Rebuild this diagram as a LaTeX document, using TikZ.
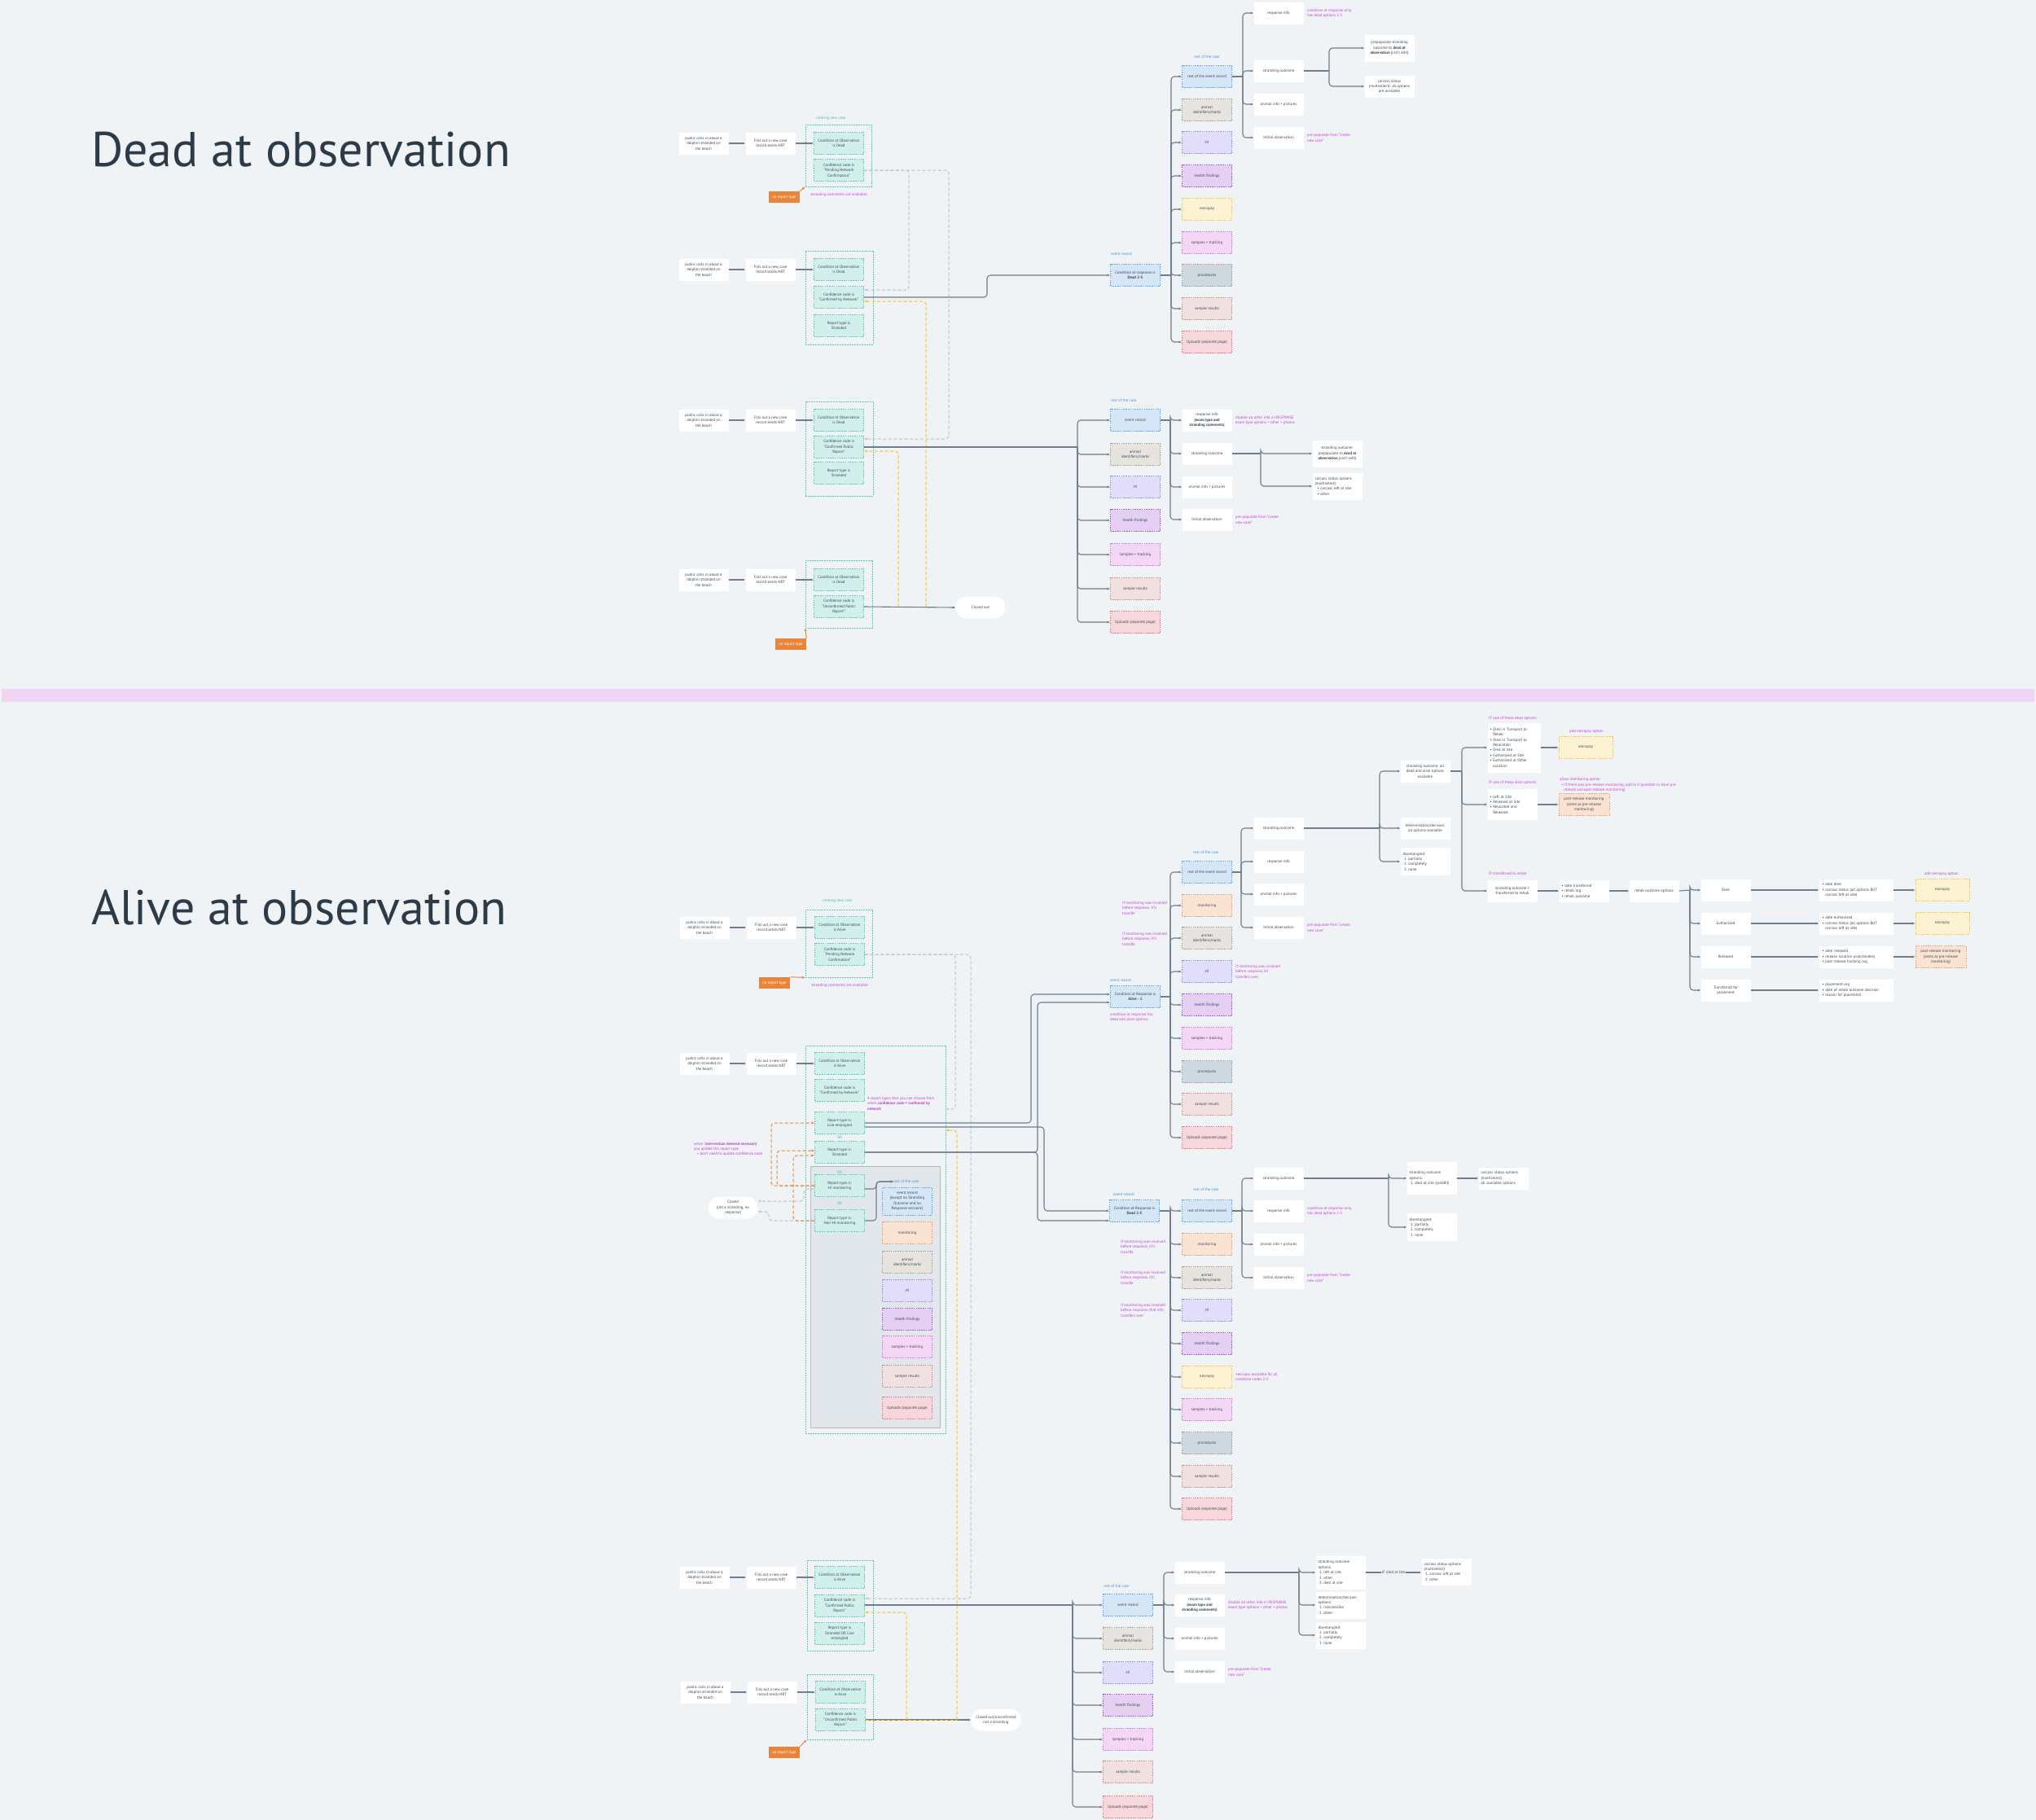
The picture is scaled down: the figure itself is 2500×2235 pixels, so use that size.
\documentclass[tikz,border=0pt]{standalone}
\usepackage{fontspec}
\setmainfont{PT Sans}
\usetikzlibrary{arrows.meta,fit,positioning}

\definecolor{bgC}{HTML}{EFF3F6}
\definecolor{ink}{HTML}{3A4652}
\definecolor{lineC}{HTML}{6E7E8C}
\definecolor{tealF}{HTML}{D2F0EB}
\definecolor{tealD}{HTML}{5ACDB8}
\definecolor{tealT}{HTML}{3DBFA6}
\definecolor{blueF}{HTML}{D5E6F6}
\definecolor{blueD}{HTML}{5EA9EC}
\definecolor{blueT}{HTML}{3F8FE0}
\definecolor{beigeF}{HTML}{E7E3DE}
\definecolor{beigeD}{HTML}{A9A29A}
\definecolor{lavF}{HTML}{E1DDFB}
\definecolor{lavD}{HTML}{9A8CF2}
\definecolor{purF}{HTML}{E5D0F4}
\definecolor{purD}{HTML}{A45BDB}
\definecolor{yelF}{HTML}{FDF3D3}
\definecolor{yelD}{HTML}{F6C944}
\definecolor{pnkF}{HTML}{F4D6F6}
\definecolor{pnkD}{HTML}{D77BE2}
\definecolor{slaF}{HTML}{CED8DF}
\definecolor{slaD}{HTML}{97A3AD}
\definecolor{rosF}{HTML}{F0E0E0}
\definecolor{rosD}{HTML}{D09090}
\definecolor{redF}{HTML}{F8D7DC}
\definecolor{redD}{HTML}{E67A8B}
\definecolor{pchF}{HTML}{FBE3D4}
\definecolor{pchD}{HTML}{F0A06E}
\definecolor{orgF}{HTML}{E9853A}
\definecolor{magT}{HTML}{C63AD8}
\definecolor{greyD}{HTML}{B9C3CC}
\definecolor{yelL}{HTML}{F5C51A}
\definecolor{sepC}{HTML}{EFD5F4}
\definecolor{gboxF}{HTML}{E2E7EB}
\definecolor{gboxD}{HTML}{B3BBC2}
\definecolor{titleC}{HTML}{2D3A48}

\newcommand{\fs}{\fontsize{4.8}{6.4}\selectfont}

\tikzset{
  base/.style={font=\fs, text=ink, inner sep=1pt, align=center},
  wbox/.style={base, fill=white, minimum width=61pt, minimum height=27pt},
  lbox/.style={wbox, text width=55pt, align=left},
  pill/.style={wbox, rounded corners=13pt},
  cbox/.style 2 args={base, draw=#1, fill=#2, line width=0.8pt, dash pattern=on 1.6pt off 1.2pt, minimum width=61pt, minimum height=27pt},
  tbox/.style={cbox={tealD}{tealF}},
  bbox/.style={cbox={blueD}{blueF}},
  ebox/.style={cbox={beigeD}{beigeF}},
  hbox/.style={cbox={lavD}{lavF}},
  fbox/.style={cbox={purD}{purF}},
  nbox/.style={cbox={yelD}{yelF}},
  sbox/.style={cbox={pnkD}{pnkF}},
  pbox/.style={cbox={slaD}{slaF}},
  rbox/.style={cbox={rosD}{rosF}},
  ubox/.style={cbox={redD}{redF}},
  mbox/.style={cbox={pchD}{pchF}},
  grp/.style={draw=tealD, line width=0.8pt, dash pattern=on 1.6pt off 1.4pt, inner sep=0pt},
  rtag/.style={base, fill=orgF, text=white, minimum width=38pt, minimum height=14pt},
  note/.style={base, text=magT, align=left, anchor=west, inner sep=0pt},
  lblB/.style={base, text=blueT, inner sep=0pt},
  lblT/.style={base, text=tealT, inner sep=0pt},
  ttl/.style={font=\fontsize{60}{60}\selectfont, text=titleC, anchor=base west, inner sep=0pt},
  ln/.style={draw=lineC, line width=1.1pt, rounded corners=4pt},
  arr/.style={ln, -{Latex[length=3.5pt,width=3.2pt]}},
  gdash/.style={draw=greyD, line width=1pt, dash pattern=on 4pt off 2.5pt, rounded corners=4pt, -{Latex[length=3.5pt,width=3.2pt]}},
  ydash/.style={gdash, draw=yelL},
  odash/.style={gdash, draw=orgF},
  oarr/.style={draw=orgF, line width=1pt, -{Latex[length=3.5pt,width=3.2pt]}},
}

\begin{document}
\begin{tikzpicture}[x=1pt,y=-1pt]
	\fill[bgC] (0,0) rectangle (2500,2235);
	\useasboundingbox (0,0) rectangle (2500,2235);
	\fill[sepC] (2,846) rectangle (2498,862);

	\node[ttl] (tDead) at (112,204) {Dead at observation};
	\node[ttl] (tAlive) at (112,1135) {Alive at observation};

	% dead: new case rows
	\node[wbox] (d1p) at (864,176) {public calls in about a\\dolphin stranded on\\the beach};
	\node[wbox] (d1f) at (946,176) {Fills out a new case\\record sends NRT};
	\node[tbox] (d1c) at (1030,176) {Condition at Observation\\is Dead};
	\node[tbox] (d1k) at (1030,209) {Confidence code is\\“Pending Network\\Confirmation”};
	\node[grp, fit={(989,153) (1070,229)}] (d1g) {};
	\node[lblT] (d1l) at (1020,145) {creating new case};
	\node[rtag] (d1n) at (963,242) {no report type};
	\node[base, text=magT, inner sep=0pt] (d1s) at (1030,239) {stranding comments are available};

	\node[wbox] (d2p) at (864,331) {public calls in about a\\dolphin stranded on\\the beach};
	\node[wbox] (d2f) at (946,331) {Fills out a new case\\record sends NRT};
	\node[tbox] (d2c) at (1030,331) {Condition at Observation\\is Dead};
	\node[tbox] (d2k) at (1030,365) {Confidence code is\\“Confirmed by Network”};
	\node[tbox] (d2r) at (1030,400) {Report type is\\Stranded};
	\node[grp, fit={(989,308) (1072,423)}] (d2g) {};

	\node[wbox] (d3p) at (864,516) {public calls in about a\\dolphin stranded on\\the beach};
	\node[wbox] (d3f) at (946,516) {Fills out a new case\\record sends NRT};
	\node[tbox] (d3c) at (1030,516) {Condition at Observation\\is Dead};
	\node[tbox] (d3k) at (1030,549) {Confidence code is\\“Confirmed Public\\Report”};
	\node[tbox] (d3r) at (1030,581) {Report type is\\Stranded};
	\node[grp, fit={(989,493) (1072,609)}] (d3g) {};

	\node[wbox] (d4p) at (864,712) {public calls in about a\\dolphin stranded on\\the beach};
	\node[wbox] (d4f) at (946,712) {Fills out a new case\\record sends NRT};
	\node[tbox] (d4c) at (1030,712) {Condition at Observation\\is Dead};
	\node[tbox] (d4k) at (1030,745) {Confidence code is\\“Unconfirmed Public\\Report”};
	\node[grp, fit={(989,688) (1071,771)}] (d4g) {};
	\node[rtag] (d4n) at (971,791) {no report type};
	\node[pill] (d4x) at (1204,746) {Closed out};

	\foreach \r in {1,...,4} {
		\draw[arr] (d\r p) -- (d\r f);
		\draw[arr] (d\r f) -- (d\r c);
	}
	\draw[oarr] (d1n.north east) -- (d1g.south west);
	\draw[oarr] (d4n.north east) -- (d4g.south west);
	\draw[arr] (d4k.east) -- (d4x.west);

	\coordinate (g1) at (1116,356);
	\coordinate (g2) at (1165,539);
	\draw[gdash] (d1k.east) -| (g1) -- (d2k.east |- g1);
	\draw[gdash] (d1k.east) -| (g2) -- (d3k.east |- g2);
	\coordinate (y1) at (1137,370);
	\coordinate (y2) at (1103,554);
	\draw[ydash] (d4k.east -| y1) -- (y1) -- (d2k.east |- y1);
	\draw[ydash] (d4k.east -| y2) -- (y2) -- (d3k.east |- y2);

	% dead: event record tree A
	\node[bbox] (eA) at (1394,338) {Condition at response is\\\textbf{Dead 2-5}};
	\node[lblB] (eAl) at (1377,312) {event record};
	\coordinate (jA) at (1212,338);
	\draw[arr] (d2k.east) -| (jA) -- (eA.west);
	\node[bbox] (aA1) at (1482,94) {rest of the event record};
	\node[ebox] (aA2) at (1482,135) {animal\\identifiers/marks};
	\node[hbox] (aA3) at (1482,175) {HI};
	\node[fbox] (aA4) at (1482,216) {health findings};
	\node[nbox] (aA5) at (1482,257) {necropsy};
	\node[sbox] (aA6) at (1482,298) {samples + tracking};
	\node[pbox] (aA7) at (1482,338) {procedures};
	\node[rbox] (aA8) at (1482,379) {sample results};
	\node[ubox] (aA9) at (1482,420) {Uploads (separate page)};
	\node[lblB] (aAl) at (1482,70) {rest of the case};
	\coordinate (bA) at (1438,338);
	\draw[ln] (eA.east) -- (bA);
	\foreach \i in {1,...,9} \draw[arr] (bA) |- (aA\i.west);

	\node[wbox] (rA1) at (1570,16) {response info};
	\node[wbox] (rA2) at (1570,87) {stranding outcome};
	\node[wbox] (rA3) at (1570,128) {animal info + pictures};
	\node[wbox] (rA4) at (1570,169) {Initial observation};
	\node[note] (rAn1) at (1605,16) {condition at response only\\has dead options 2-5};
	\node[note] (rAn4) at (1605,169) {pre-populate from “create\\new case”};
	\coordinate (bA2) at (1526,94);
	\draw[ln] (aA1.east) -- (bA2);
	\foreach \i in {1,...,4} \draw[arr] (bA2) |- (rA\i.west);

	\node[wbox, minimum height=33pt] (sA1) at (1706,59) {prepopulate stranding\\outcome to \textbf{dead at}\\\textbf{observation} (can't edit)};
	\node[wbox] (sA2) at (1706,106) {carcass status\\(multiselect): all options\\are available};
	\coordinate (bA3) at (1632,87);
	\draw[ln] (rA2.east) -- (bA3);
	\foreach \i in {1,2} \draw[arr] (bA3) |- (sA\i.west);

	% dead: event record tree B
	\node[bbox] (aB1) at (1394,516) {event record};
	\node[ebox] (aB2) at (1394,558) {animal\\identifiers/marks};
	\node[hbox] (aB3) at (1394,598) {HI};
	\node[fbox] (aB4) at (1394,639) {health findings};
	\node[sbox] (aB5) at (1394,681) {samples + tracking};
	\node[rbox] (aB6) at (1394,723) {sample results};
	\node[ubox] (aB7) at (1394,764) {Uploads (separate page)};
	\node[lblB] (aBl) at (1380,492) {rest of the case};
	\coordinate (bB) at (1323,549);
	\draw[ln] (d3k.east) -- (bB);
	\foreach \i in {1,...,7} \draw[arr] (bB) |- (aB\i.west);

	\node[wbox] (rB1) at (1482,516) {response info\\\textbf{(exam type and}\\\textbf{stranding comments)}};
	\node[wbox] (rB2) at (1482,557) {stranding outcome};
	\node[wbox] (rB3) at (1482,598) {animal info + pictures};
	\node[wbox] (rB4) at (1482,638) {Initial observation};
	\node[note] (rBn1) at (1517,516) {disable all other info in RESPONSE\\exam type options = other + photos};
	\node[note] (rBn4) at (1517,638) {pre-populate from “create\\new case”};
	\coordinate (bB2) at (1437,516);
	\draw[ln] (aB1.east) -- (bB2);
	\foreach \i in {1,...,4} \draw[arr] (bB2) |- (rB\i.west);

	\node[wbox, minimum height=33pt] (sB1) at (1642,557) {stranding outcome:\\prepopulate to \textbf{dead at}\\\textbf{observation} (can't edit)};
	\node[lbox, minimum height=33pt] (sB2) at (1642,597) {carcass status options\\(multiselect):\\\ \ • carcass left at site\\\ \ • other};
	\coordinate (bB3) at (1548,557);
	\draw[ln] (rB2.east) -- (bB3);
	\foreach \i in {1,2} \draw[arr] (bB3) |- (sB\i.west);

	% alive: new case rows
	\node[wbox] (a1p) at (865,1139) {public calls in about a\\dolphin stranded on\\the beach};
	\node[wbox] (a1f) at (947,1139) {Fills out a new case\\record sends NRT};
	\node[tbox] (a1c) at (1031,1139) {Condition at Observation\\is Alive};
	\node[tbox] (a1k) at (1031,1172) {Confidence code is\\“Pending Network\\Confirmation”};
	\node[grp, fit={(989,1117) (1071,1200)}] (a1g) {};
	\node[lblT] (a1l) at (1028,1106) {creating new case};
	\node[rtag] (a1n) at (951,1207) {no report type};
	\node[base, text=magT, inner sep=0pt] (a1s) at (1031,1210) {stranding comments are available};

	\node[grp, fit={(989,1284) (1161,1760)}] (a2g) {};
	\node[draw=gboxD, fill=gboxF, line width=0.8pt, fit={(995,1432) (1154,1753)}, inner sep=0pt] (a2x) {};
	\node[wbox] (a2p) at (865,1306) {public calls in about a\\dolphin stranded on\\the beach};
	\node[wbox] (a2f) at (947,1306) {Fills out a new case\\record sends NRT};
	\node[tbox] (a2c) at (1031,1306) {Condition at Observation\\is Alive};
	\node[tbox] (a2k) at (1031,1339) {Confidence code is\\“Confirmed by Network”};
	\node[note] (a2kn) at (1065,1355) {4 report types that you can choose from\\when \textbf{confidence code = confirmed by}\\\textbf{network}};
	\node[tbox] (a2le) at (1031,1379) {Report type is:\\Live entangled};
	\node[lblT] (or1) at (1031,1397) {OR};
	\node[tbox] (a2st) at (1031,1415) {Report type is:\\Stranded};
	\node[lblT] (or2) at (1031,1440) {OR};
	\node[tbox] (a2hi) at (1031,1456) {Report type is:\\HI monitoring};
	\node[lblT] (or3) at (1031,1478) {OR};
	\node[tbox] (a2nh) at (1031,1499) {Report type is:\\Non-HI monitoring};
	\node[lblB] (lRc) at (1113,1451) {rest of the case};
	\node[bbox, minimum height=34pt] (gx1) at (1114,1475) {event record\\(except no Stranding\\Outcome and no\\Response sections)};
	\node[mbox] (gx2) at (1114,1514) {monitoring};
	\node[ebox] (gx3) at (1114,1550) {animal\\identifiers/marks};
	\node[hbox] (gx4) at (1114,1585) {HI};
	\node[fbox] (gx5) at (1114,1620) {health findings};
	\node[sbox] (gx6) at (1114,1654) {samples + tracking};
	\node[rbox] (gx7) at (1114,1690) {sample results};
	\node[ubox] (gx8) at (1114,1729) {Uploads (separate page)};
	\node[pill] (ac) at (900,1483) {Closed\\(not a stranding, no\\response)};
	\node[note] (acn) at (852,1411) {when ‘\textbf{intervention deemed necessary}’\\you update the report type\\\ \ \ • don't need to update confidence code};

	\node[wbox] (a4p) at (865,1937) {public calls in about a\\dolphin stranded on\\the beach};
	\node[wbox] (a4f) at (947,1937) {Fills out a new case\\record sends NRT};
	\node[tbox] (a4c) at (1031,1937) {Condition at Observation\\is Alive};
	\node[tbox] (a4k) at (1031,1972) {Confidence code is\\“Confirmed Public\\Report”};
	\node[tbox] (a4r) at (1031,2006) {Report type is\\Stranded OR Live\\entangled};
	\node[grp, fit={(991,1916) (1072,2027)}] (a4g) {};

	\node[wbox] (a5p) at (866,2078) {public calls in about a\\dolphin stranded on\\the beach};
	\node[wbox] (a5f) at (948,2078) {Fills out a new case\\record sends NRT};
	\node[tbox] (a5c) at (1032,2078) {Condition at Observation\\is Alive};
	\node[tbox] (a5k) at (1032,2112) {Confidence code is\\“Unconfirmed Public\\Report”};
	\node[grp, fit={(991,2056) (1072,2136)}] (a5g) {};
	\node[rtag] (a5n) at (963,2152) {no report type};
	\node[pill] (a5x) at (1223,2112) {Closed out/unconfirmed\\not a stranding};

	\foreach \r in {1,2,4,5} {
		\draw[arr] (a\r p) -- (a\r f);
		\draw[arr] (a\r f) -- (a\r c);
	}
	\draw[oarr] (a1n.north east) -- (a1g.south west);
	\draw[oarr] (a5n.north east) -- (a5g.south west);

	% alive: monitoring / closed loops
	\coordinate (jR) at (1076,1451);
	\draw[arr] ([yshift=-4pt]a2hi.east) -| (jR) -- (lRc.west);
	\draw[arr] (a2nh.east) -| (jR) -- (lRc.west);
	\coordinate (c1) at (987,1475);
	\coordinate (c2) at (944,1488);
	\draw[gdash] ([yshift=-4pt]a2hi.west) -| (c1) -- (ac.east |- c1);
	\draw[gdash] (a2nh.west) -| (c2) -- (ac.east |- c2);
	\coordinate (o1) at (947,1456);
	\coordinate (o2) at (954,1456);
	\coordinate (o3) at (974,1499);
	\draw[odash] (a2hi.west) -- (o1) |- (a2le.west);
	\draw[odash] (a2hi.west) -- (o2) |- ([yshift=2pt]a2st.west);
	\draw[odash] (a2nh.west) -- (o3) |- ([yshift=-4pt]a2st.west);

	\coordinate (h1) at (1173,1362);
	\coordinate (h2) at (1192,1963);
	\draw[gdash] (a1k.east) -| (h1) -- (a2g.east |- h1);
	\draw[gdash] (a1k.east) -| (h2) -- (a4k.east |- h2);
	\draw[arr] (a5k.east) -- (a5x.west);
	\coordinate (h3) at (1175,1388);
	\coordinate (h4) at (1113,1980);
	\draw[ydash, -] (a5k.east) -- (a5k.east -| h3);
	\draw[ydash] (a5k.east -| h3) -- (h3) -- (a2g.east |- h3);
	\draw[ydash] (a5k.east -| h4) -- (h4) -- (a4k.east |- h4);

	% alive: event record Alive - 1
	\node[bbox] (eB) at (1394,1224) {Condition at Response is\\\textbf{Alive - 1}};
	\node[lblB] (eBl) at (1376,1204) {event record};
	\node[note] (eBn) at (1363,1249) {condition at response has\\dead and alive options};
	\node[bbox] (eC) at (1393,1487) {Condition at Response is\\\textbf{Dead 2-5}};
	\node[lblB] (eCl) at (1380,1467) {event record};

	\coordinate (v1) at (1266,1221);
	\coordinate (v2) at (1282,1487);
	\coordinate (v3) at (1274,1231);
	\coordinate (v4) at (1274,1499);
	\draw[arr] (a2le.east) -| (v1) -- (eB.west |- v1);
	\draw[arr] ([yshift=-5pt]a2le.east) -| (v2) -- (eC.west);
	\draw[arr] (a2st.east) -| (v3) -- (eB.west |- v3);
	\draw[arr] (a2st.east) -| (v4) -- (eC.west |- v4);

	\node[bbox] (cB1) at (1482,1071) {rest of the event record};
	\node[mbox] (cB2) at (1482,1112) {monitoring};
	\node[ebox] (cB3) at (1482,1152) {animal\\identifiers/marks};
	\node[hbox] (cB4) at (1482,1193) {HI};
	\node[fbox] (cB5) at (1482,1234) {health findings};
	\node[sbox] (cB6) at (1482,1275) {samples + tracking};
	\node[pbox] (cB7) at (1482,1316) {procedures};
	\node[rbox] (cB8) at (1482,1356) {sample results};
	\node[ubox] (cB9) at (1482,1397) {Uploads (separate page)};
	\node[lblB] (cBl) at (1481,1047) {rest of the case};
	\node[note] (cBn1) at (1378,1115) {if monitoring was involved\\before response, it'll\\transfer};
	\node[note] (cBn2) at (1378,1153) {if monitoring was involved\\before response, it'll\\transfer};
	\node[note] (cBn4) at (1517,1193) {if monitoring was involved\\before response, HI\\transfers over};
	\coordinate (bC) at (1437,1224);
	\draw[ln] (eB.east) -- (bC);
	\foreach \i in {1,...,9} \draw[arr] (bC) |- (cB\i.west);

	\node[wbox] (rC1) at (1570,1017) {stranding outcome};
	\node[wbox] (rC2) at (1570,1058) {response info};
	\node[wbox] (rC3) at (1570,1098) {animal info + pictures};
	\node[wbox] (rC4) at (1570,1139) {Initial observation};
	\node[note] (rCn4) at (1605,1139) {pre-populate from “create\\new case”};
	\coordinate (bC2) at (1524,1071);
	\draw[ln] (cB1.east) -- (bC2);
	\foreach \i in {1,...,4} \draw[arr] (bC2) |- (rC\i.west);

	\node[wbox] (sC1) at (1750,947) {stranding outcome: all\\dead and alive options\\available};
	\node[wbox] (sC2) at (1750,1017) {determination/decision:\\all options available};
	\node[lbox, minimum height=34pt] (sC3) at (1750,1058) {disentangled:\\\ 1.\ partially\\\ 2.\ completely\\\ 3.\ none};
	\coordinate (bC3) at (1694,1017);
	\draw[ln] (rC1.east) -- (bC3);
	\foreach \i in {1,...,3} \draw[arr] (bC3) |- (sC\i.west);

	\node[lbox, minimum width=65pt, text width=59pt, minimum height=61pt] (dC1) at (1859,918) {• Died in Transport to\\\phantom{• }Rehab\\• Died in Transport to\\\phantom{• }Relocation\\• Died at site\\• Euthanized at Site\\• Euthanized at Other\\\phantom{• }Location};
	\node[note] (dCl1) at (1828,882) {IF one of these dead options};
	\node[lbox, minimum height=38pt] (dC2) at (1857,988) {• Left at Site\\• Released at Site\\• Relocated and\\\phantom{• }Released};
	\node[note] (dCl2) at (1828,961) {IF one of these alive options};
	\node[wbox] (dC3) at (1857,1094) {stranding outcome +\\transferred to rehab};
	\node[note] (dCl3) at (1828,1073) {IF transferred to rehab};
	\coordinate (bC4) at (1795,947);
	\draw[ln] (sC1.east) -- (bC4);
	\foreach \i in {1,...,3} \draw[arr] (bC4) |- (dC\i.west);

	\node[nbox, minimum width=66pt] (nC1) at (1947,918) {necropsy};
	\node[base, text=magT, inner sep=0pt] (nCl1) at (1948,898) {add necropsy option};
	\node[mbox, minimum width=62pt] (nC2) at (1945,988) {post-release monitoring\\(same as pre-release\\monitoring)};
	\node[note, anchor=north west] (nCl2) at (1915,955) {allow monitoring option\\\ \ • If there was pre-release monitoring, add to it (possible to have pre-\\\ \ \ \ release and post-release monitoring)};
	\node[lbox] (nC3) at (1945,1094) {• date transferred\\• rehab org\\• rehab outcome};
	\node[wbox] (ro) at (2031,1094) {rehab outcome options};
	\draw[arr] (dC1) -- (nC1);
	\draw[arr] (dC2) -- (nC2);
	\draw[arr] (dC3) -- (nC3);
	\draw[arr] (nC3) -- (ro);

	\node[wbox] (oD1) at (2119,1093) {Died};
	\node[wbox] (oD2) at (2119,1134) {Euthanized};
	\node[wbox] (oD3) at (2119,1175) {Released};
	\node[wbox] (oD4) at (2119,1216) {Transferred for\\placement};
	\coordinate (bO) at (2075,1093);
	\draw[ln] (ro.east) -- (bO);
	\foreach \i in {1,...,4} \draw[arr] (bO) |- (oD\i.west);

	\node[lbox, minimum width=91pt, text width=83pt] (pD1) at (2279,1093) {• date died\\• carcass status (all options BUT\\\phantom{• }carcass left at site)};
	\node[lbox, minimum width=91pt, text width=83pt] (pD2) at (2279,1134) {• date euthanized\\• carcass status (all options BUT\\\phantom{• }carcass left at site)};
	\node[lbox, minimum width=91pt, text width=83pt] (pD3) at (2279,1175) {• date released\\• release location (coordinates)\\• post release tracking org};
	\node[lbox, minimum width=91pt, text width=83pt] (pD4) at (2279,1216) {• placement org\\• date of rehab outcome decision\\• reason for placement};
	\foreach \i in {1,...,4} \draw[arr] (oD\i) -- (pD\i);

	\node[nbox, minimum width=66pt] (qD1) at (2385,1093) {necropsy};
	\node[nbox, minimum width=66pt] (qD2) at (2385,1134) {necropsy};
	\node[mbox, minimum width=62pt] (qD3) at (2383,1175) {post-release monitoring\\(same as pre-release\\monitoring)};
	\node[base, text=magT, inner sep=0pt] (qDl) at (2384,1073) {add necropsy option};
	\foreach \i in {1,...,3} \draw[arr] (pD\i) -- (qD\i);

	% alive: event record Dead 2-5
	\node[bbox] (cC1) at (1482,1487) {rest of the event record};
	\node[mbox] (cC2) at (1482,1528) {monitoring};
	\node[ebox] (cC3) at (1482,1569) {animal\\identifiers/marks};
	\node[hbox] (cC4) at (1482,1609) {HI};
	\node[fbox] (cC5) at (1482,1650) {health findings};
	\node[nbox] (cC6) at (1482,1691) {necropsy};
	\node[sbox] (cC7) at (1482,1731) {samples + tracking};
	\node[pbox] (cC8) at (1482,1772) {procedures};
	\node[rbox] (cC9) at (1482,1813) {sample results};
	\node[ubox] (cC10) at (1482,1853) {Uploads (separate page)};
	\node[lblB] (cCl) at (1481,1461) {rest of the case};
	\node[note] (cCn1) at (1376,1531) {if monitoring was involved\\before response, it'll\\transfer};
	\node[note] (cCn2) at (1376,1569) {if monitoring was involved\\before response, it'll\\transfer};
	\node[note] (cCn3) at (1376,1609) {if monitoring was involved\\before response, that info\\transfers over};
	\node[note] (cCn6) at (1517,1691) {necropsy available for all\\condition codes 2-5};
	\coordinate (bD) at (1437,1487);
	\draw[ln] (eC.east) -- (bD);
	\foreach \i in {1,...,10} \draw[arr] (bD) |- (cC\i.west);

	\node[wbox] (rD1) at (1570,1447) {stranding outcome};
	\node[wbox] (rD2) at (1570,1487) {response info};
	\node[wbox] (rD3) at (1570,1528) {animal info + pictures};
	\node[wbox] (rD4) at (1570,1569) {Initial observation};
	\node[note] (rDn2) at (1605,1487) {condition at response only\\has dead options 2-5};
	\node[note] (rDn4) at (1605,1569) {pre-populate from “create\\new case”};
	\coordinate (bD2) at (1525,1487);
	\draw[ln] (cC1.east) -- (bD2);
	\foreach \i in {1,...,4} \draw[arr] (bD2) |- (rD\i.west);

	\node[lbox, minimum height=40pt] (sD1) at (1758,1447) {stranding outcome\\options:\\\ 1.\ died at site (autofill)};
	\node[lbox, minimum height=34pt] (sD2) at (1758,1507) {disentangled:\\\ 1.\ partially\\\ 2.\ completely\\\ 3.\ none};
	\coordinate (bD3) at (1705,1447);
	\draw[ln] (rD1.east) -- (bD3);
	\foreach \i in {1,2} \draw[arr] (bD3) |- (sD\i.west);
	\node[lbox] (tD) at (1846,1447) {carcass status options\\(multiselect):\\all available options};
	\draw[arr] (sD1) -- (tD);

	% alive: confirmed public report tree
	\node[bbox] (eE1) at (1385,1971) {event record};
	\node[ebox] (eE2) at (1385,2012) {animal\\identifiers/marks};
	\node[hbox] (eE3) at (1385,2054) {HI};
	\node[fbox] (eE4) at (1385,2094) {health findings};
	\node[sbox] (eE5) at (1385,2136) {samples + tracking};
	\node[rbox] (eE6) at (1385,2176) {sample results};
	\node[ubox] (eE7) at (1385,2219) {Uploads (separate page)};
	\node[lblB] (eEl) at (1371,1948) {rest of the case};
	\coordinate (bE) at (1317,1971);
	\draw[ln] (a4k.east |- bE) -- (bE);
	\foreach \i in {1,...,7} \draw[arr] (bE) |- (eE\i.west);

	\node[wbox] (rE1) at (1473,1931) {stranding outcome};
	\node[wbox] (rE2) at (1473,1971) {response info\\\textbf{(exam type and}\\\textbf{stranding comments)}};
	\node[wbox] (rE3) at (1473,2012) {animal info + pictures};
	\node[wbox] (rE4) at (1473,2053) {Initial observation};
	\node[note] (rEn2) at (1508,1971) {disable all other info in RESPONSE\\exam type options = other + photos};
	\node[note] (rEn4) at (1508,2053) {pre-populate from “create\\new case”};
	\coordinate (bE2) at (1429,1971);
	\draw[ln] (eE1.east) -- (bE2);
	\foreach \i in {1,...,4} \draw[arr] (bE2) |- (rE\i.west);

	\node[lbox, minimum height=41pt] (sE1) at (1646,1931) {stranding outcome\\options:\\\ 1.\ left at site\\\ 2.\ other\\\ 3.\ died at site};
	\node[lbox, minimum height=33pt] (sE2) at (1646,1971) {determination/decision\\options:\\\ 1.\ inaccessible\\\ 2.\ other};
	\node[lbox, minimum height=33pt] (sE3) at (1646,2008) {disentangled:\\\ 1.\ partially\\\ 2.\ completely\\\ 3.\ none};
	\coordinate (bE3) at (1595,1931);
	\draw[ln] (rE1.east) -- (bE3);
	\foreach \i in {1,...,3} \draw[arr] (bE3) |- (sE\i.west);
	\node[lbox, minimum height=33pt] (tE) at (1776,1930) {carcass status options\\(multiselect):\\\ 1.\ carcass left at site\\\ 2.\ other};
	\draw[arr] (sE1.east) -- node[base, fill=bgC] (lIF) {IF died at site} (tE.west |- sE1.east);
\end{tikzpicture}
\end{document}
